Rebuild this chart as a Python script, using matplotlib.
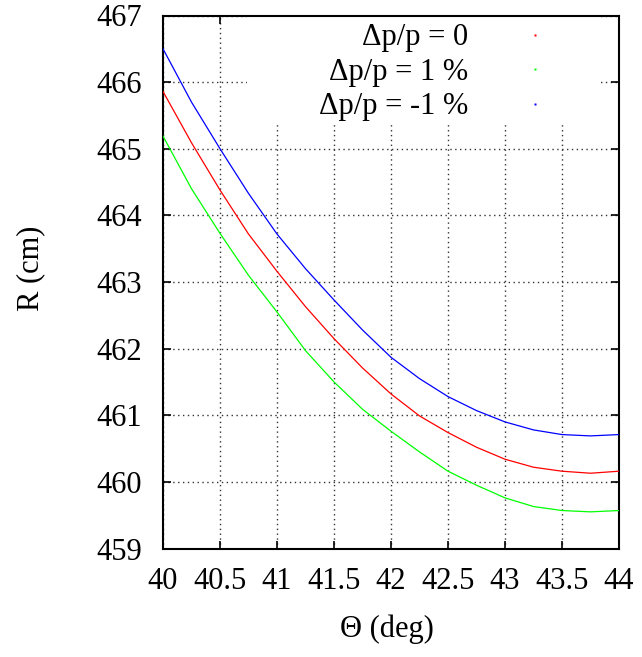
import matplotlib
matplotlib.use("Agg")
import matplotlib.pyplot as plt
from matplotlib.lines import Line2D
from matplotlib.patches import Rectangle

plt.rcParams['font.family'] = ['Liberation Serif', 'DejaVu Serif']

# scattering angle (deg) and radius (cm) for three momentum offsets
theta = [40.0, 40.25, 40.5, 40.75, 41.0, 41.25, 41.5, 41.75, 42.0,
         42.25, 42.5, 42.75, 43.0, 43.25, 43.5, 43.75, 44.0]
r_dp0 = [465.86, 465.09, 464.38, 463.72, 463.16, 462.63, 462.15, 461.71, 461.32,
         460.99, 460.74, 460.52, 460.34, 460.22, 460.16, 460.13, 460.16]
r_dp_plus1 = [465.19, 464.40, 463.73, 463.10, 462.55, 461.97, 461.50, 461.09, 460.76,
              460.45, 460.16, 459.95, 459.76, 459.63, 459.57, 459.55, 459.57]
r_dp_minus1 = [466.50, 465.70, 465.00, 464.33, 463.72, 463.20, 462.73, 462.28, 461.87,
               461.55, 461.28, 461.07, 460.90, 460.78, 460.71, 460.69, 460.71]

labels = ['\u0394p/p = 0', '\u0394p/p = 1 %', '\u0394p/p = -1 %']
colors = ['#ff0000', '#00ff00', '#0000ff']
xticks = [40, 40.5, 41, 41.5, 42, 42.5, 43, 43.5, 44]
xticklabels = ['40', '40.5', '41', '41.5', '42', '42.5', '43', '43.5', '44']
yticks = list(range(459, 468))

FS = 22

fig = plt.figure(figsize=(6.42, 6.57), dpi=100)
ax = fig.add_axes([163 / 642, 1 - 548.5 / 657, 456 / 642, 533 / 657])

for r, c in zip([r_dp0, r_dp_plus1, r_dp_minus1], colors):
    ax.plot(theta, r, color=c, lw=0.9, zorder=3)

ax.set_xlim(40, 44)
ax.set_ylim(459, 467)
ax.set_xticks(xticks)
ax.set_xticklabels(xticklabels)
ax.set_yticks(yticks)

ax.grid(True, color='0.2', linestyle=(0, (1, 2.5)), lw=1.0)
ax.set_axisbelow(True)
ax.tick_params(direction='in', length=6, width=1.2, top=True, right=True,
               labelsize=FS)
ax.tick_params(axis='x', pad=13.5)
ax.tick_params(axis='y', pad=15)
for s in ax.spines.values():
    s.set_linewidth(1.5)

ax.set_xlabel('\u0398 (deg)', fontsize=FS)
ax.set_ylabel('R (cm)', fontsize=FS)
ax.xaxis.set_label_coords(0.492, -0.124)
ax.yaxis.set_label_coords(-0.259, 0.525)

# blank key area so the grid does not run through the labels
ax.add_patch(Rectangle((0.184, 0.794), 0.77, 0.206, transform=ax.transAxes,
                       facecolor='white', edgecolor='none', zorder=1))

handles = [Line2D([], [], ls='none', marker='s', ms=1.5, mec='none', mfc=c) for c in colors]
leg = ax.legend(handles, labels, loc='upper right', markerfirst=False,
                bbox_to_anchor=(0.9397, 0.985), fontsize=FS, frameon=False,
                handlelength=3.7, handletextpad=0.34, borderpad=0.0,
                borderaxespad=0.0, labelspacing=0.18)

fig.savefig('out.png', dpi=100)
